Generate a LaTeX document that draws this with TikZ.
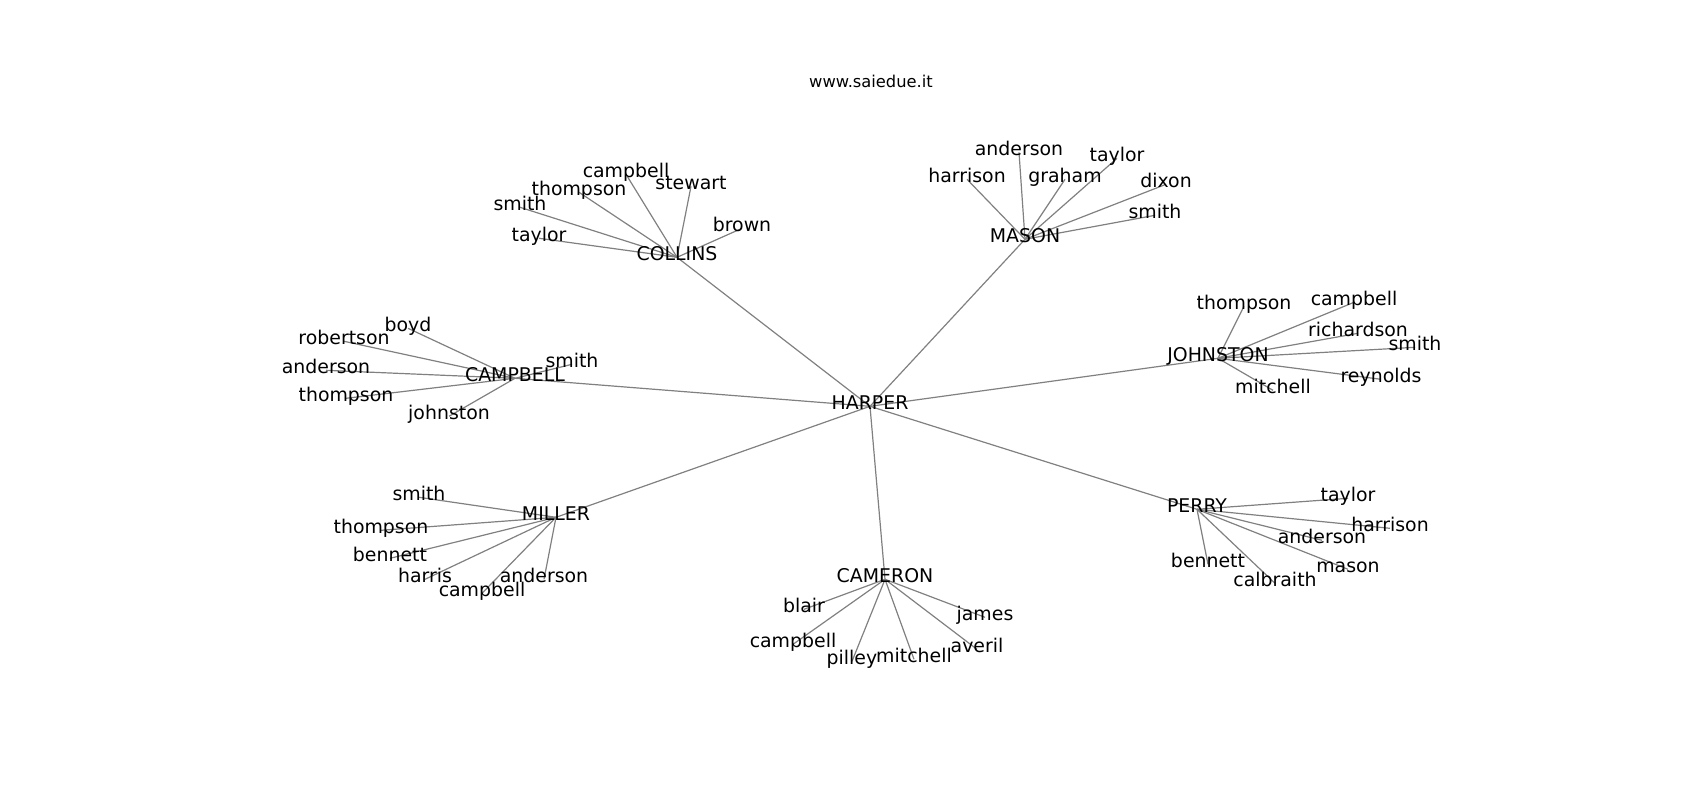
\documentclass[tikz,border=0pt]{standalone}
\usepackage{fontspec}
\setmainfont{DejaVu Sans}
\usetikzlibrary{backgrounds}
\tikzset{
  lbl/.style={inner sep=0pt, outer sep=0pt, anchor=center, yshift=-3.3pt, text height=0.80em, text depth=0.20em, font=\fontsize{18.9}{22}\selectfont},
  edge/.style={draw=gray, line width=1.2pt},
  ttl/.style={inner sep=0pt, anchor=base, font=\fontsize{16.3}{19}\selectfont}
}
\begin{document}
\begin{tikzpicture}[x=1pt,y=-1pt]
\useasboundingbox (0,0) rectangle (1700,800);
\node[ttl] (title) at (871,88) {www.saiedue.it};
% center
\node[lbl] (harper) at (870,403) {HARPER};
% hubs
\node[lbl] (collins) at (677,254) {COLLINS};
\node[lbl] (mason) at (1025,236) {MASON};
\node[lbl] (campbell) at (515,375) {CAMPBELL};
\node[lbl] (johnston) at (1218,355) {JOHNSTON};
\node[lbl] (miller) at (556,514) {MILLER};
\node[lbl] (cameron) at (885,576) {CAMERON};
\node[lbl] (perry) at (1197,506) {PERRY};
% collins leaves
\node[lbl] (co1) at (626,171) {campbell};
\node[lbl] (co2) at (691,183) {stewart};
\node[lbl] (co3) at (579,189) {thompson};
\node[lbl] (co4) at (520,204) {smith};
\node[lbl] (co5) at (539,235) {taylor};
\node[lbl] (co6) at (742,225) {brown};
% mason leaves
\node[lbl] (ma1) at (1019,149) {anderson};
\node[lbl] (ma2) at (967,176) {harrison};
\node[lbl] (ma3) at (1065,176) {graham};
\node[lbl] (ma4) at (1117,155) {taylor};
\node[lbl] (ma5) at (1166,181) {dixon};
\node[lbl] (ma6) at (1155,212) {smith};
% campbell leaves
\node[lbl] (ca1) at (408,325) {boyd};
\node[lbl] (ca2) at (344,338) {robertson};
\node[lbl] (ca3) at (326,367) {anderson};
\node[lbl] (ca4) at (346,395) {thompson};
\node[lbl] (ca5) at (449,413) {johnston};
\node[lbl] (ca6) at (572,361) {smith};
% johnston leaves
\node[lbl] (jo1) at (1244,303) {thompson};
\node[lbl] (jo2) at (1354,299) {campbell};
\node[lbl] (jo3) at (1358,330) {richardson};
\node[lbl] (jo4) at (1415,344) {smith};
\node[lbl] (jo5) at (1381,376) {reynolds};
\node[lbl] (jo6) at (1273,387) {mitchell};
% miller leaves
\node[lbl] (mi1) at (419,494) {smith};
\node[lbl] (mi2) at (381,527) {thompson};
\node[lbl] (mi3) at (390,555) {bennett};
\node[lbl] (mi4) at (425,576) {harris};
\node[lbl] (mi5) at (482,590) {campbell};
\node[lbl] (mi6) at (544,576) {anderson};
% cameron leaves
\node[lbl] (cm1) at (804,606) {blair};
\node[lbl] (cm2) at (793,641) {campbell};
\node[lbl] (cm3) at (852,658) {pilley};
\node[lbl] (cm4) at (914,656) {mitchell};
\node[lbl] (cm5) at (977,646) {averil};
\node[lbl] (cm6) at (985,614) {james};
% perry leaves
\node[lbl] (pe1) at (1348,495) {taylor};
\node[lbl] (pe2) at (1390,525) {harrison};
\node[lbl] (pe3) at (1322,537) {anderson};
\node[lbl] (pe4) at (1348,566) {mason};
\node[lbl] (pe5) at (1208,561) {bennett};
\node[lbl] (pe6) at (1275,580) {calbraith};
\begin{pgfonlayer}{background}
\foreach \h in {collins,mason,campbell,johnston,miller,cameron,perry}
  \draw[edge] (harper.center) -- (\h.center);
\foreach \l in {co1,co2,co3,co4,co5,co6}
  \draw[edge] (collins.center) -- (\l.center);
\foreach \l in {ma1,ma2,ma3,ma4,ma5,ma6}
  \draw[edge] (mason.center) -- (\l.center);
\foreach \l in {ca1,ca2,ca3,ca4,ca5,ca6}
  \draw[edge] (campbell.center) -- (\l.center);
\foreach \l in {jo1,jo2,jo3,jo4,jo5,jo6}
  \draw[edge] (johnston.center) -- (\l.center);
\foreach \l in {mi1,mi2,mi3,mi4,mi5,mi6}
  \draw[edge] (miller.center) -- (\l.center);
\foreach \l in {cm1,cm2,cm3,cm4,cm5,cm6}
  \draw[edge] (cameron.center) -- (\l.center);
\foreach \l in {pe1,pe2,pe3,pe4,pe5,pe6}
  \draw[edge] (perry.center) -- (\l.center);
\end{pgfonlayer}
\end{tikzpicture}
\end{document}
